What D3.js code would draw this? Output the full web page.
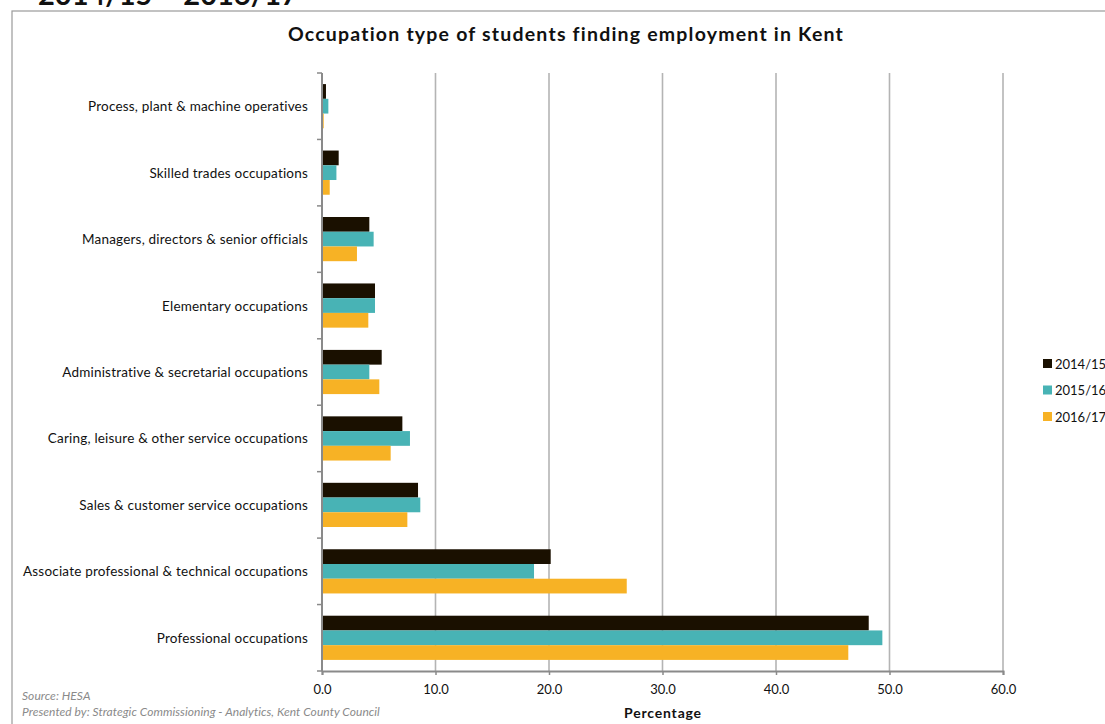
<!DOCTYPE html>
<html><head><meta charset="utf-8">
<script src="https://cdn.jsdelivr.net/npm/d3@7"></script>
<style>body{margin:0;background:#fff;} svg{display:block;font-family:Lato, "Open Sans", sans-serif;}</style>
</head><body>
<svg id="c" width="1105" height="724"></svg>
<script>
const categories = ["Process, plant & machine operatives","Skilled trades occupations","Managers, directors & senior officials","Elementary occupations","Administrative & secretarial occupations","Caring, leisure & other service occupations","Sales & customer service occupations","Associate professional & technical occupations","Professional occupations"];
const seriesNames = ["2014/15","2015/16","2016/17"];
const v2014 = [0.35,1.47,4.17,4.67,5.26,7.08,8.46,20.15,48.17];
const v2015 = [0.56,1.27,4.55,4.67,4.17,7.75,8.66,18.68,49.37];
const v2016 = [0.15,0.68,3.08,4.08,5.05,6.05,7.52,26.85,46.37];
const xTicks = [0,10,20,30,40,50,60];
const colors = ["#1a1000","#48b3b5","#f7b225"];

const series = [v2014, v2015, v2016];
const svg = d3.select("#c");

// outer border
svg.append("rect").attr("x",12).attr("y",11).attr("width",1110).attr("height",730)
  .attr("fill","none").attr("stroke","#9a9a9a").attr("stroke-width",1.2);

// cropped heading
svg.append("text").attr("x",38).attr("y",5).attr("font-size",29).attr("font-weight","bold")
  .attr("fill","#111").text("2014/15 – 2016/17");

svg.append("text").attr("x",566).attr("y",41).attr("text-anchor","middle")
  .attr("font-size",19.5).attr("font-weight","bold").attr("letter-spacing",1.2).attr("fill","#111")
  .text("Occupation type of students finding employment in Kent");

const x = d3.scaleLinear().domain([0,60]).range([322,1003]);
const y = d3.scaleBand().domain(categories).range([73,671]).paddingInner(0.335).paddingOuter(0.167);
const inner = d3.scaleBand().domain(seriesNames).range([0,y.bandwidth()]);

// gridlines
svg.append("g").selectAll("line").data(xTicks.slice(1)).join("line")
  .attr("x1",d=>x(d)).attr("x2",d=>x(d)).attr("y1",73).attr("y2",671)
  .attr("stroke","#b4b4b4").attr("stroke-width",1.6);

// bars
seriesNames.forEach((s,si)=>{
  svg.append("g").selectAll("rect").data(series[si]).join("rect")
    .attr("x",x(0)).attr("y",(d,i)=>y(categories[i])+inner(s))
    .attr("width",d=>x(d)-x(0)).attr("height",inner.bandwidth())
    .attr("fill",colors[si]);
});

// y axis
svg.append("line").attr("x1",322).attr("x2",322).attr("y1",73).attr("y2",671)
  .attr("stroke","#8a8a8a").attr("stroke-width",2);
const yTickPos = d3.range(categories.length+1).map(i=>73 + i*(671-73)/categories.length);
svg.append("g").selectAll("line").data(yTickPos).join("line")
  .attr("x1",317).attr("x2",322).attr("y1",d=>d).attr("y2",d=>d)
  .attr("stroke","#8a8a8a").attr("stroke-width",1.5);
svg.append("g").selectAll("text").data(categories).join("text")
  .attr("x",308).attr("y",(d)=>y(d)+y.bandwidth()/2+5).attr("text-anchor","end")
  .attr("font-size",13.5).attr("letter-spacing",0.2).attr("fill","#111").text(d=>d);

// x axis
const xg = svg.append("g").attr("transform","translate(0,671)")
  .call(d3.axisBottom(x).tickValues(xTicks).tickFormat(d3.format(".1f")).tickSize(4));
xg.select(".domain").attr("stroke","#8a8a8a").attr("stroke-width",2);
xg.selectAll(".tick line").attr("stroke","#8a8a8a").attr("stroke-width",1.5);
xg.selectAll(".tick text").attr("font-size",13).attr("fill","#111").attr("font-family","Lato, sans-serif").attr("dy","1.2em");
svg.append("text").attr("x",663).attr("y",718).attr("text-anchor","middle")
  .attr("font-size",14).attr("font-weight","bold").attr("letter-spacing",0.8).attr("fill","#111").text("Percentage");

// legend
const lg = svg.append("g");
seriesNames.forEach((s,i)=>{
  const yy = 364 + i*26.5;
  lg.append("rect").attr("x",1043).attr("y",yy-5).attr("width",9).attr("height",9).attr("fill",colors[i]);
  lg.append("text").attr("x",1055).attr("y",yy+4.5).attr("font-size",13).attr("fill","#111").text(s);
});

// source
svg.append("text").attr("x",22).attr("y",700).attr("font-size",12).attr("font-style","italic")
  .attr("fill","#8a8a8a").attr("letter-spacing",0.05).text("Source: HESA");
svg.append("text").attr("x",22).attr("y",716).attr("font-size",12).attr("font-style","italic")
  .attr("fill","#8a8a8a").attr("letter-spacing",0.05).text("Presented by: Strategic Commissioning - Analytics, Kent County Council");
</script>
</body></html>
